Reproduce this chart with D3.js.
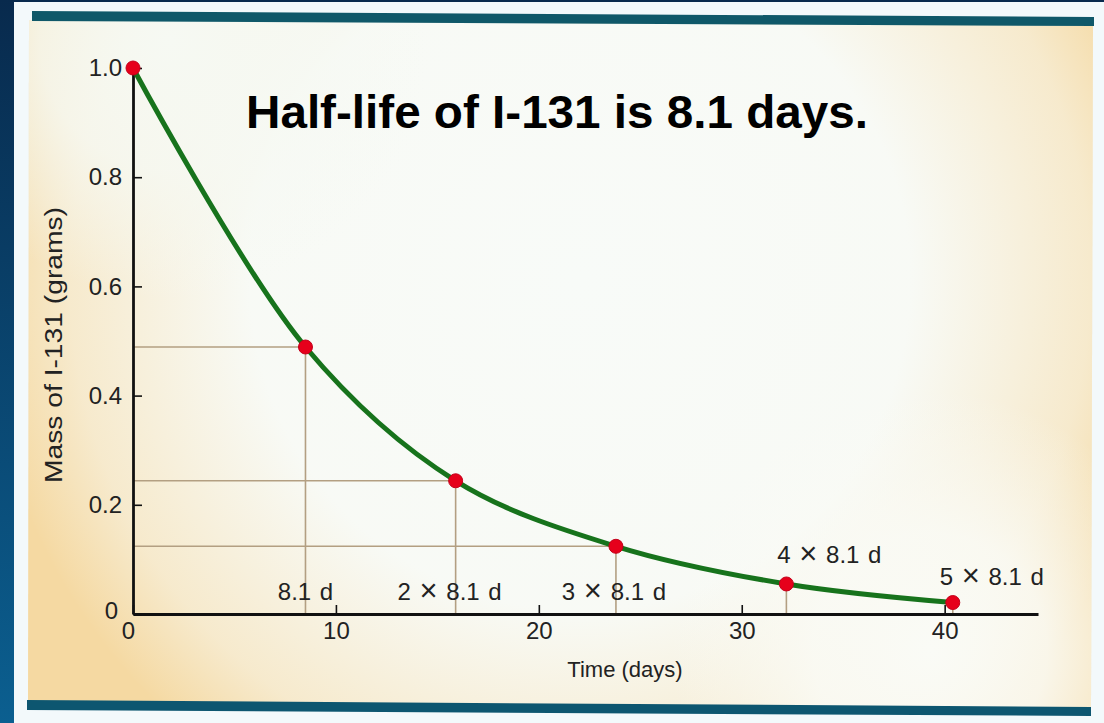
<!DOCTYPE html>
<html>
<head>
<meta charset="utf-8">
<script src="https://cdn.jsdelivr.net/npm/d3@7"></script>
<style>
  html, body { margin: 0; padding: 0; background: #f3f9fb; }
  svg { display: block; }
  text { font-family: "Liberation Sans", Arial, Helvetica, sans-serif; }
</style>
</head>
<body>
<div id="chart"></div>
<script>
  // values
  var days = [0, 8.5, 15.9, 23.8, 32.2, 40.4];
  var mass = [1.0, 0.489, 0.244, 0.124, 0.055, 0.021];
  var pointLabels = ["", "8.1 d", "2 \u00d7 8.1 d", "3 \u00d7 8.1 d", "4 \u00d7 8.1 d", "5 \u00d7 8.1 d"];
  var xTicks = [0, 10, 20, 30, 40];
  var yTicks = [0, 0.2, 0.4, 0.6, 0.8, 1.0];

  var W = 1104, H = 723;
  var svg = d3.select("#chart").append("svg").attr("width", W).attr("height", H);
  var defs = svg.append("defs");

  var radial = function(id, cx, cy, r, color, stops) {
    var g = defs.append("radialGradient").attr("id", id).attr("gradientUnits", "userSpaceOnUse")
      .attr("cx", cx).attr("cy", cy).attr("r", r);
    stops.forEach(function(s) {
      g.append("stop").attr("offset", s[0]).attr("stop-color", color).attr("stop-opacity", s[1]);
    });
  };

  // frame
  var side = defs.append("linearGradient").attr("id", "side").attr("x1", 0).attr("y1", 0).attr("x2", 0).attr("y2", 1);
  side.append("stop").attr("offset", 0).attr("stop-color", "#082a4d");
  side.append("stop").attr("offset", 1).attr("stop-color", "#0b5f90");

  radial("glow", 580, 280, 600, "#f8fbf8", [[0, 1], [0.55, 0.97], [0.85, 0.5], [1, 0]]);
  radial("glowTL", 170, 40, 260, "#f6f9f3", [[0, 1], [0.5, 0.8], [1, 0]]);
  radial("glowBR", 930, 650, 260, "#fafbf6", [[0, 1], [0.45, 0.85], [1, 0]]);

  svg.append("rect").attr("x", 0).attr("y", 0).attr("width", W).attr("height", H).attr("fill", "#f3f9fb");
  svg.append("rect").attr("x", 0).attr("y", 0).attr("width", W).attr("height", 2).attr("fill", "#082a4d");
  svg.append("rect").attr("x", 0).attr("y", 0).attr("width", 14).attr("height", H).attr("fill", "url(#side)");

  // beige page
  svg.append("clipPath").attr("id", "page").append("polygon").attr("points", "29,20 1093,26 1091,708 28,702");
  var page = svg.append("g").attr("clip-path", "url(#page)");
  page.append("rect").attr("x", 0).attr("y", 0).attr("width", W).attr("height", H).attr("fill", "#f5d9a2");
  ["glow", "glowTL", "glowBR"].forEach(function(id) {
    page.append("rect").attr("x", 0).attr("y", 0).attr("width", W).attr("height", H).attr("fill", "url(#" + id + ")");
  });

  svg.append("polygon").attr("points", "32,11 1094,17 1094,26 32,21").attr("fill", "#0f5869");
  svg.append("polygon").attr("points", "27,700 1091,707 1091,716 27,710").attr("fill", "#0d5670");

  var x = d3.scaleLinear().domain([0, 44.6]).range([133, 1038]);
  var y = d3.scaleLinear().domain([0, 1]).range([614, 68]);

  var pts = days.map(function(d, i) {
    return { t: d, m: mass[i], label: pointLabels[i] };
  });

  // guide lines
  var guides = svg.append("g").attr("stroke", "#b39f82").attr("stroke-width", 1.6);
  pts.slice(1).forEach(function(p, i) {
    guides.append("line").attr("x1", x(p.t)).attr("x2", x(p.t)).attr("y1", y(p.m)).attr("y2", y(0));
    if (i < 3) {
      guides.append("line").attr("x1", x(0)).attr("x2", x(p.t)).attr("y1", y(p.m)).attr("y2", y(p.m));
    }
  });

  // axes
  var xAxis = d3.axisBottom(x).tickValues(xTicks).tickSizeInner(-9).tickSizeOuter(0).tickPadding(8);
  var gx = svg.append("g").attr("transform", "translate(0," + y(0) + ")").call(xAxis);
  var yAxis = d3.axisLeft(y).tickValues(yTicks).tickSizeInner(-9).tickSizeOuter(0).tickPadding(11)
    .tickFormat(function(d) { return d === 0 ? "0" : d3.format(".1f")(d); });
  var gy = svg.append("g").attr("transform", "translate(" + x(0) + ",0)").call(yAxis);

  [gx, gy].forEach(function(g) {
    g.select(".domain").attr("stroke", "#111").attr("stroke-width", 2.8);
    g.selectAll(".tick line").attr("stroke", "#111").attr("stroke-width", 1.6);
    g.selectAll(".tick text").attr("fill", "#222").style("font-size", "24px");
  });
  gx.selectAll(".tick text").filter(function(d) { return d === 0; }).attr("dx", -5);
  gy.selectAll(".tick text").filter(function(d) { return d === 0; }).attr("dx", -4).attr("dy", "0.2em");

  // decay curve
  var line = d3.line()
    .x(function(d) { return x(d.t); })
    .y(function(d) { return y(d.m); })
    .curve(d3.curveCatmullRom.alpha(0.5));
  svg.append("path").datum(pts).attr("d", line)
    .attr("fill", "none").attr("stroke", "#17731c").attr("stroke-width", 5);

  svg.selectAll("circle.pt").data(pts).enter().append("circle")
    .attr("class", "pt")
    .attr("cx", function(d) { return x(d.t); })
    .attr("cy", function(d) { return y(d.m); })
    .attr("r", 7)
    .attr("fill", "#e6001b").attr("stroke", "#c4001a").attr("stroke-width", 1);

  // point labels, the times sign set a size up as in the print
  var labelPos = [null, [0, 600], [-6, 600], [-2, 600], [43, 563], [39, 585]];
  var pl = svg.selectAll("text.pl").data(pts.slice(1)).enter().append("text")
    .attr("class", "pl")
    .attr("x", function(d, i) { return x(d.t) + labelPos[i + 1][0]; })
    .attr("y", function(d, i) { return labelPos[i + 1][1]; })
    .attr("text-anchor", "middle")
    .style("font-size", "24px").style("word-spacing", "2px").attr("fill", "#222");
  pl.each(function(d) {
    var t = d3.select(this);
    var parts = d.label.split("\u00d7");
    if (parts.length === 1) { t.text(d.label); return; }
    t.append("tspan").text(parts[0]);
    t.append("tspan").style("font-size", "31px").attr("dy", 1).text("\u00d7");
    t.append("tspan").attr("dy", -1).text(parts[1]);
  });

  // titles
  svg.append("text").attr("x", 246).attr("y", 128)
    .attr("textLength", 622).attr("lengthAdjust", "spacingAndGlyphs")
    .style("font-size", "46px").style("font-weight", "bold").attr("fill", "#000")
    .text("Half-life of I-131 is 8.1 days.");
  svg.append("text").attr("x", 625).attr("y", 677).attr("text-anchor", "middle")
    .style("font-size", "22px").attr("fill", "#222").text("Time (days)");
  svg.append("text").attr("transform", "translate(62,345) rotate(-90)").attr("text-anchor", "middle")
    .attr("textLength", 276).attr("lengthAdjust", "spacingAndGlyphs")
    .style("font-size", "23px").attr("fill", "#222").text("Mass of I-131 (grams)");
</script>
</body>
</html>
